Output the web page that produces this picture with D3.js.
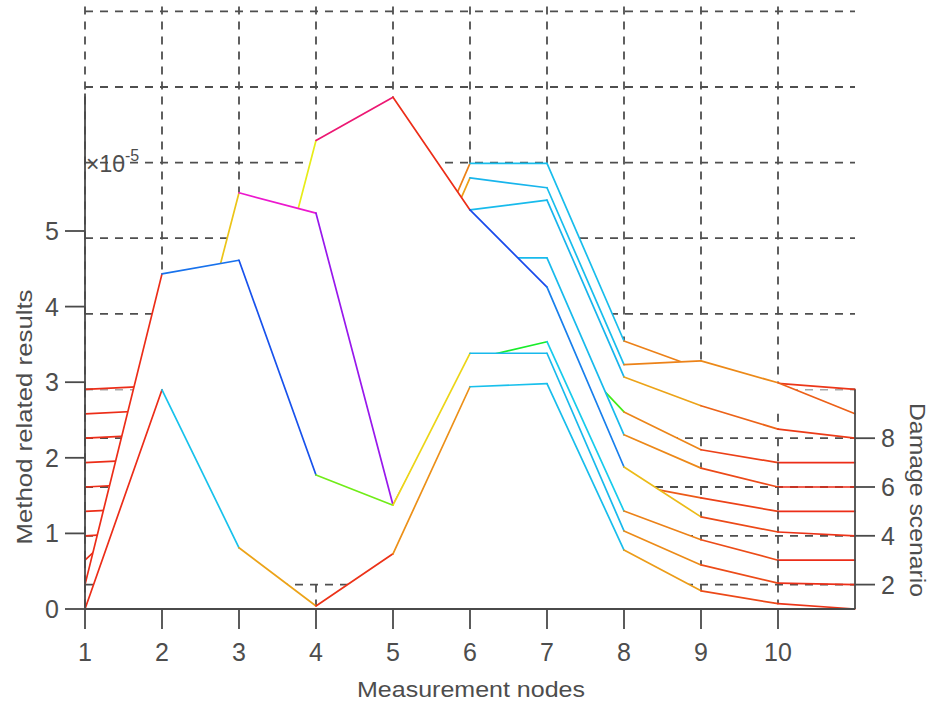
<!DOCTYPE html>
<html>
<head>
<meta charset="utf-8">
<script src="https://cdn.jsdelivr.net/npm/d3@7"></script>
<style>
  body { margin: 0; background: #ffffff; }
  svg { display: block; }
  text { font-family: "Liberation Sans", Arial, sans-serif; fill: #4d4d4d; }
</style>
</head>
<body>
<svg id="chart" width="931" height="701"></svg>
<script>
// Measurement nodes (x), damage scenarios (depth) and axis ticks
const nodes = [1, 2, 3, 4, 5, 6, 7, 8, 9, 10, 11];
const scenarios = [1, 2, 3, 4, 5, 6, 7, 8, 9, 10];
const nodeTicks = [1, 2, 3, 4, 5, 6, 7, 8, 9, 10];
const valueTicks = [0, 1, 2, 3, 4, 5];
const scenarioTicks = [2, 4, 6, 8];

// Method related results (x 10^-5) per damage scenario, one value per node
const scenario1  = [0, 2.90, 0.81, 0.04, 0.73, 2.94, 2.98, 0.78, 0.24, 0.07, 0];
const scenario2  = [0, 4.11, 4.29, 1.45, 1.05, 3.06, 3.06, 0.71, 0.26, 0.02, 0];
const scenario3  = [0, 0.95, 4.86, 4.59, 0.73, 2.65, 2.89, 0.65, 0.27, 0.00, 0];
const scenario4  = [0, 0.06, 1.33, 5.23, 5.80, 4.31, 3.29, 0.91, 0.25, 0.05, 0];
const scenario5  = [0, 0.05, 1.00, 3.60, 4.60, 2.70, 2.60, 0.37, 0.18, 0.00, 0];
const scenario6  = [0, 0.05, 0.90, 1.80, 4.00, 3.03, 3.03, 0.69, 0.25, 0.00, 0];
const scenario7  = [0, 0.05, 0.90, 1.50, 2.60, 1.80, 1.75, 0.67, 0.17, 0.00, 0];
const scenario8  = [0, 0.05, 0.80, 1.30, 2.00, 3.02, 3.15, 0.81, 0.43, 0.12, 0];
const scenario9  = [0, 0.05, 0.70, 1.20, 0.80, 3.12, 2.99, 0.65, 0.70, 0.41, 0];
const scenario10 = [0, 0.05, 0.60, 1.00, 0.64, 2.99, 2.99, 0.64, 0.27, 0.08, 0];
const results = [scenario1, scenario2, scenario3, scenario4, scenario5,
                 scenario6, scenario7, scenario8, scenario9, scenario10];

// Colormap: value -> hue
const colorValues = [0, 0.25, 0.7, 1.0, 1.35, 1.45, 1.8, 2.65, 2.9, 3.15, 3.3, 4.1, 4.3, 4.6, 5.0, 5.25, 5.8];
const colorHues   = [6, 14, 32, 52, 62, 95, 110, 125, 192, 196, 212, 214, 224, 278, 325, 335, 366];

const svg = d3.select("#chart");

// Oblique 3-D projection: node -> x, value -> height, scenario -> upward shift
const x = d3.scaleLinear().domain([1, 11]).range([85, 855]);
const z = d3.scaleLinear().domain([0, 5]).range([609, 231]);
const depth = d3.scaleLinear().domain([1, 10]).range([0, -219.6]);
const zTop = 6.82;
const hue = d3.scaleLinear().domain(colorValues).range(colorHues).clamp(true);
const colorOf = v => d3.hsl(hue(v) % 360, 0.85, 0.51).toString();

const pt = (n, v, k) => [x(n), z(v) + depth(k)];
const base = k => z(0) + depth(k);
const backY = v => z(v) + depth(10);

const gridStyle = sel => sel
  .attr("stroke", "#4f4f4f")
  .attr("stroke-width", 1.8)
  .attr("stroke-dasharray", "8,7")
  .attr("fill", "none");

// Back wall grid (behind all curves)
const back = svg.append("g");
back.selectAll("line.bh").data(valueTicks).join("line")
  .attr("class", "bh")
  .attr("x1", x(1)).attr("x2", x(11))
  .attr("y1", d => backY(d)).attr("y2", d => backY(d))
  .call(gridStyle);
back.selectAll("line.bv").data(nodeTicks).join("line")
  .attr("class", "bv")
  .attr("x1", d => x(d)).attr("x2", d => x(d))
  .attr("y1", backY(0)).attr("y2", backY(zTop))
  .call(gridStyle);

// Curtains from back to front; white faces hide what lies behind them
const layers = svg.append("g");
const seg = d3.line();
for (let i = scenarios.length - 1; i >= 0; i--) {
  const k = scenarios[i];
  const vals = results[i];
  const g = layers.append("g").attr("class", "scenario-" + k);

  // floor grid along depth, between this scenario and the one behind it
  if (i < scenarios.length - 1) {
    const kBack = scenarios[i + 1];
    g.selectAll("line.fv").data(nodeTicks).join("line")
      .attr("class", "fv")
      .attr("x1", d => x(d)).attr("x2", d => x(d))
      .attr("y1", base(kBack)).attr("y2", base(k))
      .call(gridStyle);
  }

  const pts = nodes.map((n, j) => pt(n, vals[j], k));
  const poly = pts.concat([[x(nodes[nodes.length - 1]), base(k)], [x(nodes[0]), base(k)]]);
  g.append("path")
    .attr("d", "M" + poly.map(p => p.join(",")).join("L") + "Z")
    .attr("fill", "#ffffff")
    .attr("stroke", "none");

  // floor grid across nodes at this scenario
  if (scenarioTicks.includes(k)) {
    g.append("line")
      .attr("x1", x(1)).attr("x2", x(11))
      .attr("y1", base(k)).attr("y2", base(k))
      .call(gridStyle);
  }

  // each segment coloured by the value at its first node
  const pairs = d3.pairs(pts.map((p, j) => ({ p, v: vals[j] })));
  g.selectAll("path.seg").data(pairs).join("path")
    .attr("class", "seg")
    .attr("d", d => seg([d[0].p, d[1].p]))
    .attr("fill", "none")
    .attr("stroke", d => colorOf(d[0].v))
    .attr("stroke-width", 1.7)
    .attr("stroke-linecap", "round");
}

// Axes
const axisColor = "#4a4a4a";
const axes = svg.append("g").attr("stroke", axisColor).attr("stroke-width", 1.8);

// value axis (front left edge)
axes.append("line").attr("x1", x(1)).attr("x2", x(1)).attr("y1", z(0)).attr("y2", z(zTop));
axes.selectAll("line.zt").data(valueTicks).join("line")
  .attr("class", "zt")
  .attr("x1", x(1) - 20).attr("x2", x(1))
  .attr("y1", d => z(d)).attr("y2", d => z(d));
svg.selectAll("text.zl").data(valueTicks).join("text")
  .attr("class", "zl")
  .attr("x", x(1) - 26).attr("y", d => z(d) + 9)
  .attr("text-anchor", "end")
  .attr("font-size", 25)
  .text(d => d);

// node axis
axes.append("line").attr("x1", x(1)).attr("x2", x(11)).attr("y1", z(0)).attr("y2", z(0));
axes.selectAll("line.xt").data(nodeTicks).join("line")
  .attr("class", "xt")
  .attr("x1", d => x(d)).attr("x2", d => x(d))
  .attr("y1", z(0)).attr("y2", z(0) + 20);
svg.selectAll("text.xl").data(nodeTicks).join("text")
  .attr("class", "xl")
  .attr("x", d => x(d)).attr("y", z(0) + 52)
  .attr("text-anchor", "middle")
  .attr("font-size", 25)
  .text(d => d);

// damage scenario axis (right edge)
axes.append("line").attr("x1", x(11)).attr("x2", x(11)).attr("y1", base(1)).attr("y2", base(10));
axes.selectAll("line.dt").data(scenarioTicks).join("line")
  .attr("class", "dt")
  .attr("x1", x(11)).attr("x2", x(11) + 20)
  .attr("y1", d => base(d)).attr("y2", d => base(d));
svg.selectAll("text.dl").data(scenarioTicks).join("text")
  .attr("class", "dl")
  .attr("x", x(11) + 26).attr("y", d => base(d) + 9)
  .attr("text-anchor", "start")
  .attr("font-size", 25)
  .text(d => d);

// exponent label
const expo = svg.append("text").attr("x", x(1) + 1).attr("y", 172).attr("font-size", 23);
expo.append("tspan").text("×10");
expo.append("tspan").attr("dy", -11).attr("font-size", 16).text("-5");

// axis titles
svg.append("text")
  .attr("x", 471).attr("y", 697)
  .attr("text-anchor", "middle")
  .attr("font-size", 22)
  .attr("textLength", 228).attr("lengthAdjust", "spacingAndGlyphs")
  .text("Measurement nodes");
svg.append("text")
  .attr("transform", "translate(32,417) rotate(-90)")
  .attr("text-anchor", "middle")
  .attr("font-size", 22)
  .attr("textLength", 255).attr("lengthAdjust", "spacingAndGlyphs")
  .text("Method related results");
svg.append("text")
  .attr("transform", "translate(910,500) rotate(90)")
  .attr("text-anchor", "middle")
  .attr("font-size", 22)
  .attr("textLength", 194).attr("lengthAdjust", "spacingAndGlyphs")
  .text("Damage scenario");
</script>
</body>
</html>
